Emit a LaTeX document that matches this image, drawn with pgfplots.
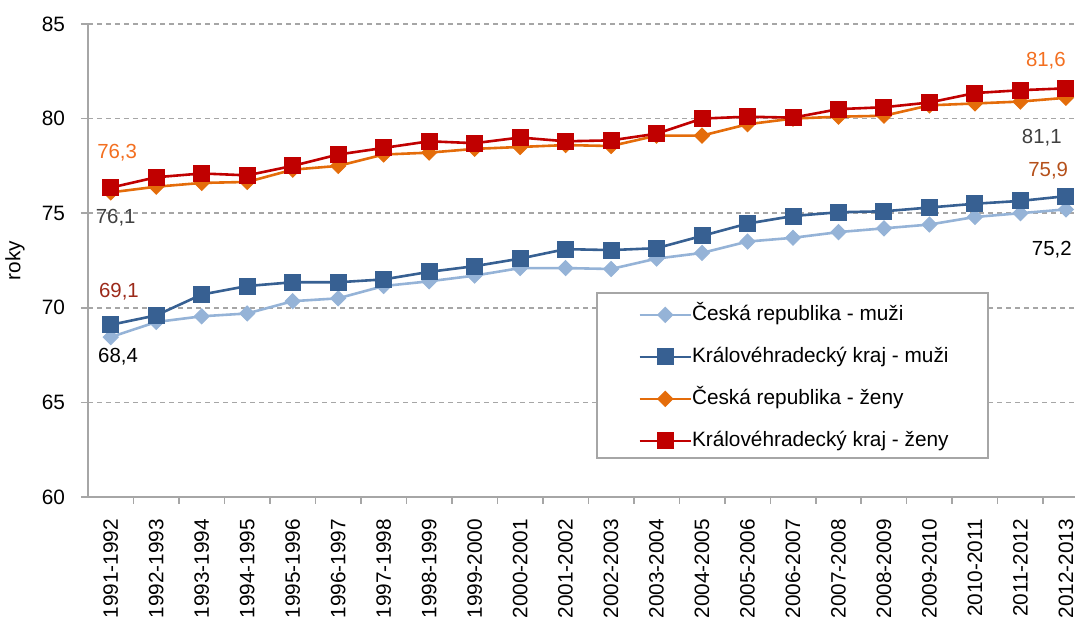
\documentclass[border=0pt]{standalone}
\usepackage{pgfplots}
\pgfplotsset{compat=1.18}
\usepackage{fontspec}
\setmainfont{Liberation Sans}
\definecolor{lblue}{HTML}{95B3D7}
\definecolor{dblue}{HTML}{376092}
\definecolor{orng}{HTML}{E46C0A}
\definecolor{dred}{HTML}{C00000}
\definecolor{axgray}{HTML}{A6A6A6}
\definecolor{lblorange}{HTML}{F36F20}
\definecolor{lblred}{HTML}{9C2A1A}
\definecolor{lblbrown}{HTML}{B5501A}
\definecolor{lblgray}{HTML}{404040}
\begin{document}
\begin{tikzpicture}
\path[use as bounding box] (-44pt,-61pt) rectangle (493.5pt,248.5pt);
\begin{axis}[
  scale only axis, width=493.5pt, height=236.5pt,
  xmin=-0.5, xmax=21.2, ymin=60, ymax=85,
  axis x line*=bottom, axis y line*=left,
  axis line style={-, draw=axgray, line width=1pt},
  ytick={60,65,70,75,80,85},
  ymajorgrids,
  major grid style={draw=axgray, line width=0.75pt, dash pattern=on 2.5pt off 2pt},
  tick align=outside,
  major tick length=3.5pt, minor tick length=3.5pt,
  tick style={draw=axgray, line width=0.75pt},
  major x tick style={draw=none},
  xtick={0,...,21},
  minor xtick={0.5,1.5,...,20.5},
  xticklabels={1991-1992,1992-1993,1993-1994,1994-1995,1995-1996,1996-1997,1997-1998,1998-1999,1999-2000,2000-2001,2001-2002,2002-2003,2003-2004,2004-2005,2005-2006,2006-2007,2007-2008,2008-2009,2009-2010,2010-2011,2011-2012,2012-2013},
  xticklabel style={yshift=-4pt, rotate=90, anchor=east, font=\fontsize{10.4}{12}\selectfont},
  yticklabel style={xshift=-4.5pt, font=\fontsize{10.4}{12}\selectfont},
  /pgf/number format/assume math mode=true,
  ylabel={roky},
  ylabel style={at={(axis description cs:-0.074,0.5)}, anchor=center, font=\fontsize{10.4}{12}\selectfont},
  legend style={at={(axis description cs:0.5157,0.4313)}, anchor=north west,
    draw=none, fill=none, inner xsep=18pt, inner ysep=6pt,
    row sep=11.5pt, font=\fontsize{10.4}{12}\selectfont,
    nodes={text height=7.5pt, text depth=2pt, inner sep=0pt},
    /tikz/every even column/.append style={column sep=5pt}},
  legend cell align=left,
  legend image code/.code={\path (-2.5pt,0pt); \draw[mark repeat=2,mark phase=2,#1] plot coordinates {(0pt,0pt) (12.75pt,0pt) (25.5pt,0pt)};},
  every axis plot/.append style={line width=1.3pt},
]
\addplot[color=lblue, mark=square*, mark size=2.65pt, mark options={rotate=45, solid, fill=lblue, draw=lblue, line width=0.5pt}] coordinates {
(0,68.45) (1,69.25) (2,69.55) (3,69.7) (4,70.35) (5,70.5) (6,71.15) (7,71.4) (8,71.7) (9,72.1) (10,72.1) (11,72.05) (12,72.6) (13,72.9) (14,73.5) (15,73.7) (16,74.0) (17,74.2) (18,74.4) (19,74.8) (20,75.0) (21,75.2)};
\addlegendentry{Česká republika - muži}
\addplot[color=dblue, mark=square*, mark size=4pt, mark options={solid, fill=dblue, draw=dblue, line width=0.5pt}] coordinates {
(0,69.1) (1,69.6) (2,70.7) (3,71.15) (4,71.35) (5,71.35) (6,71.5) (7,71.9) (8,72.2) (9,72.6) (10,73.1) (11,73.05) (12,73.15) (13,73.8) (14,74.45) (15,74.85) (16,75.05) (17,75.1) (18,75.3) (19,75.5) (20,75.65) (21,75.9)};
\addlegendentry{Královéhradecký kraj - muži}
\addplot[color=orng, mark=square*, mark size=2.65pt, mark options={rotate=45, solid, fill=orng, draw=orng, line width=0.5pt}] coordinates {
(0,76.1) (1,76.4) (2,76.6) (3,76.65) (4,77.3) (5,77.5) (6,78.1) (7,78.2) (8,78.4) (9,78.5) (10,78.6) (11,78.55) (12,79.1) (13,79.1) (14,79.7) (15,80.0) (16,80.1) (17,80.15) (18,80.7) (19,80.8) (20,80.9) (21,81.1)};
\addlegendentry{Česká republika - ženy}
\addplot[color=dred, mark=square*, mark size=4pt, mark options={solid, fill=dred, draw=dred, line width=0.5pt}] coordinates {
(0,76.35) (1,76.9) (2,77.1) (3,77.0) (4,77.5) (5,78.1) (6,78.45) (7,78.8) (8,78.7) (9,79.0) (10,78.8) (11,78.85) (12,79.2) (13,80.0) (14,80.1) (15,80.05) (16,80.5) (17,80.6) (18,80.85) (19,81.35) (20,81.5) (21,81.6)};
\addlegendentry{Královéhradecký kraj - ženy}
\filldraw[fill=white, draw=axgray, line width=0.75pt] (axis description cs:0.5157,0.4313) rectangle (axis description cs:0.9119,0.0825);
\node[font=\fontsize{10.2}{12}\selectfont, text=lblorange] at (axis cs:0.14,78.2) {76,3};
\node[font=\fontsize{10.2}{12}\selectfont, text=lblgray] at (axis cs:0.11,74.77) {76,1};
\node[font=\fontsize{10.2}{12}\selectfont, text=lblred] at (axis cs:0.18,70.83) {69,1};
\node[font=\fontsize{10.2}{12}\selectfont, text=black] at (axis cs:0.16,67.4) {68,4};
\node[font=\fontsize{10.2}{12}\selectfont, text=lblorange] at (axis cs:20.56,83.07) {81,6};
\node[font=\fontsize{10.2}{12}\selectfont, text=lblgray] at (axis cs:20.47,79.0) {81,1};
\node[font=\fontsize{10.2}{12}\selectfont, text=lblbrown] at (axis cs:20.61,77.26) {75,9};
\node[font=\fontsize{10.2}{12}\selectfont, text=black] at (axis cs:20.69,73.05) {75,2};
\end{axis}
\end{tikzpicture}
\end{document}
